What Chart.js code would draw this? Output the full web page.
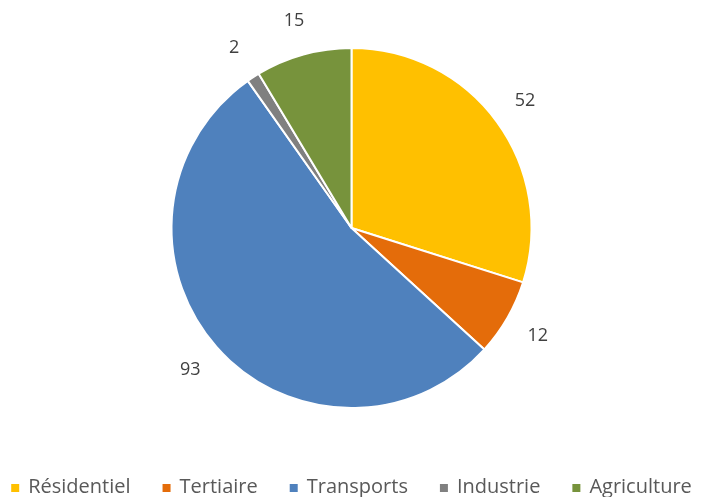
<!DOCTYPE html>
<html>
<head>
<meta charset="utf-8">
<script src="https://cdn.jsdelivr.net/npm/chart.js@4/dist/chart.umd.min.js"></script>
<style>
  html, body { margin: 0; padding: 0; background: #fff; }
  #wrap { width: 703px; height: 497px; position: relative; }
</style>
</head>
<body>
<div id="wrap"><canvas id="pie"></canvas></div>
<script>
  // consommation par secteur
  var SECTEURS = ['Résidentiel', 'Tertiaire', 'Transports', 'Industrie', 'Agriculture'];
  var VALEURS = [52, 12, 93, 2, 15];
  var COULEURS = ['#FFC000', '#E46C0A', '#4F81BD', '#808080', '#77933C'];

  var FONT_LEG = '20px "Open Sans", sans-serif';

  // étiquettes de valeur posées à l'extérieur de chaque part
  var outsideLabels = {
    id: 'outsideLabels',
    afterDatasetsDraw: function (chart) {
      var ctx = chart.ctx;
      var meta = chart.getDatasetMeta(0);
      ctx.save();
      ctx.font = '18px "Open Sans", sans-serif';
      ctx.fillStyle = '#404040';
      ctx.textAlign = 'center';
      ctx.textBaseline = 'middle';
      meta.data.forEach(function (arc, i) {
        var p = arc.getProps(['x', 'y', 'startAngle', 'endAngle', 'outerRadius'], true);
        var mid = (p.startAngle + p.endAngle) / 2;
        var r = p.outerRadius + 35;
        ctx.fillText(String(VALEURS[i]), p.x + Math.cos(mid) * r, p.y + Math.sin(mid) * r);
      });
      ctx.restore();
    }
  };

  // légende sur une seule ligne, centrée sous le camembert
  var rowLegend = {
    id: 'rowLegend',
    afterDraw: function (chart) {
      var ctx = chart.ctx;
      var box = 8, gapTxt = 9, gapItem = 32;
      ctx.save();
      ctx.font = FONT_LEG;
      var widths = SECTEURS.map(function (s) { return ctx.measureText(s).width; });
      var total = widths.reduce(function (a, w) { return a + box + gapTxt + w; }, 0) + gapItem * (SECTEURS.length - 1);
      var x = (chart.width - total) / 2;
      var y = chart.height - 10;
      ctx.textBaseline = 'middle';
      SECTEURS.forEach(function (s, i) {
        ctx.fillStyle = COULEURS[i];
        ctx.fillRect(x, y - box / 2 + 1, box, box);
        ctx.fillStyle = '#595959';
        ctx.fillText(s, x + box + gapTxt, y);
        x += box + gapTxt + widths[i] + gapItem;
      });
      ctx.restore();
    }
  };

  new Chart(document.getElementById('pie'), {
    type: 'pie',
    data: {
      labels: SECTEURS,
      datasets: [{
        data: VALEURS,
        backgroundColor: COULEURS,
        borderColor: '#ffffff',
        borderWidth: 2,
        radius: 180
      }]
    },
    options: {
      responsive: true,
      maintainAspectRatio: false,
      animation: false,
      layout: { padding: { top: 0, bottom: 41 } },
      plugins: {
        tooltip: { enabled: false },
        legend: { display: false }
      }
    },
    plugins: [outsideLabels, rowLegend]
  });
</script>
</body>
</html>
